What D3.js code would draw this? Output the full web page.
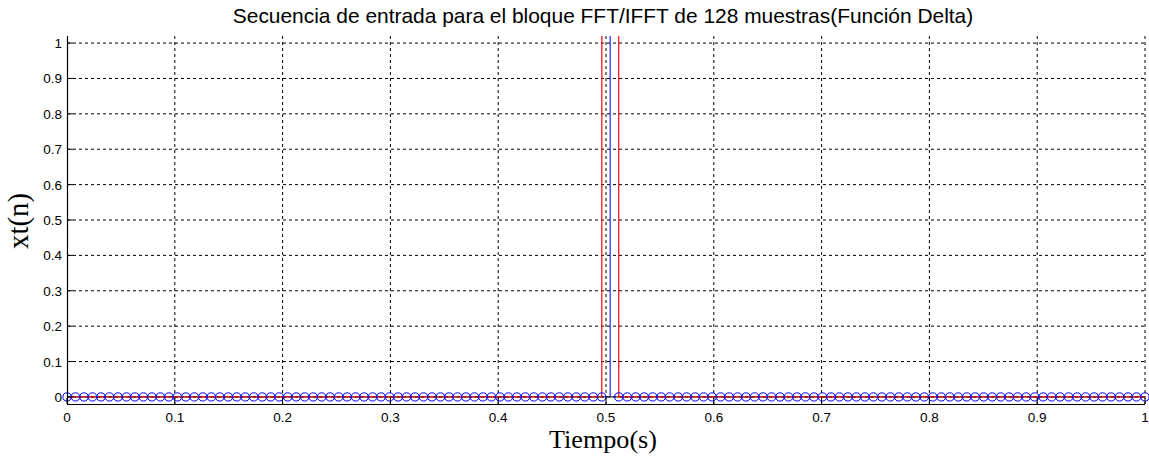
<!DOCTYPE html>
<html>
<head>
<meta charset="utf-8">
<script src="https://cdn.jsdelivr.net/npm/d3@7/dist/d3.min.js"></script>
<style>
  html, body { margin: 0; padding: 0; background: #fff; }
  svg { display: block; }
</style>
</head>
<body>
<svg id="chart" width="1149" height="456"></svg>
<script>
// 128-sample input sequence: a delta at sample 64, zero elsewhere.
const sampleCount = 128;
const deltaIndex = 64;
const deltaValue = 128;
const sampleIndex = d3.range(sampleCount);                  // n = 0..127
const sampleTime = sampleIndex.map(n => n / (sampleCount - 1)); // t in seconds
const sampleValue = sampleIndex.map(n => (n === deltaIndex ? deltaValue : 0));

const xTicks = [0, 0.1, 0.2, 0.3, 0.4, 0.5, 0.6, 0.7, 0.8, 0.9, 1];
const yTicks = [0, 0.1, 0.2, 0.3, 0.4, 0.5, 0.6, 0.7, 0.8, 0.9, 1];
const xDomain = [0, 1];
const yDomain = [-0.02, 1.02];

const titleText = "Secuencia de entrada para el bloque FFT/IFFT de 128 muestras(Función Delta)";
const xLabelText = "Tiempo(s)";
const yLabelText = "xt(n)";

(function draw() {
  const svg = d3.select("#chart");
  const pLeft = 67, pRight = 1145, pTop = 36, pBottom = 404;

  const x = d3.scaleLinear().domain(xDomain).range([pLeft, pRight]);
  const y = d3.scaleLinear().domain(yDomain).range([pBottom, pTop]);

  svg.append("defs").append("clipPath").attr("id", "plotClip")
    .append("rect").attr("x", pLeft - 6).attr("y", pTop)
    .attr("width", pRight - pLeft + 12).attr("height", pBottom - pTop);

  // dotted grid
  const grid = svg.append("g");
  grid.selectAll("line.gx").data(xTicks.filter(d => d > 0)).join("line")
    .attr("x1", d => x(d)).attr("x2", d => x(d))
    .attr("y1", pTop).attr("y2", pBottom)
    .attr("stroke", "#000").attr("stroke-width", 1).attr("stroke-dasharray", "3,3");
  grid.selectAll("line.gy").data(yTicks).join("line")
    .attr("x1", pLeft).attr("x2", pRight)
    .attr("y1", d => y(d)).attr("y2", d => y(d))
    .attr("stroke", "#000").attr("stroke-width", 1).attr("stroke-dasharray", "3,3");

  const plot = svg.append("g").attr("clip-path", "url(#plotClip)");

  // stem baseline
  plot.append("line")
    .attr("x1", x(0)).attr("x2", x(1))
    .attr("y1", y(0)).attr("y2", y(0))
    .attr("stroke", "#000").attr("stroke-width", 1);

  // red line through the samples
  const line = d3.line().x((d, i) => x(sampleTime[i])).y(d => y(d));
  plot.append("path")
    .datum(sampleValue)
    .attr("d", line)
    .attr("fill", "none").attr("stroke", "#ff0000").attr("stroke-width", 1.4).attr("opacity", 0.85);

  // blue stems with circle markers
  plot.selectAll("line.stem").data(sampleIndex).join("line")
    .attr("x1", i => x(sampleTime[i])).attr("x2", i => x(sampleTime[i]))
    .attr("y1", y(0)).attr("y2", i => y(sampleValue[i]))
    .attr("stroke", "#0000ff").attr("stroke-width", 1.6).attr("opacity", 0.65);
  plot.selectAll("circle.mark").data(sampleIndex).join("circle")
    .attr("cx", i => x(sampleTime[i])).attr("cy", i => y(sampleValue[i]))
    .attr("r", 4.1)
    .attr("fill", "none").attr("stroke", "#0000ff").attr("stroke-width", 1);

  // axes
  const axes = svg.append("g");
  axes.append("line").attr("x1", pLeft + 0.5).attr("x2", pLeft + 0.5).attr("y1", pTop).attr("y2", pBottom)
    .attr("stroke", "#000").attr("stroke-width", 1.2);
  axes.append("line").attr("x1", pLeft).attr("x2", pRight).attr("y1", pBottom + 0.5).attr("y2", pBottom + 0.5)
    .attr("stroke", "#000").attr("stroke-width", 1.2);
  axes.selectAll("line.ty").data(yTicks).join("line")
    .attr("x1", pLeft).attr("x2", pLeft + 6)
    .attr("y1", d => y(d)).attr("y2", d => y(d))
    .attr("stroke", "#000");
  axes.selectAll("line.tx").data(xTicks).join("line")
    .attr("x1", d => x(d)).attr("x2", d => x(d))
    .attr("y1", pBottom).attr("y2", pBottom - 6)
    .attr("stroke", "#000");

  const sansFont = "Liberation Sans, Arial, sans-serif";
  const serifFont = "Liberation Serif, 'DejaVu Serif', serif";
  const fmt = d => d3.format("")(+d.toFixed(1));

  axes.selectAll("text.ly").data(yTicks).join("text")
    .attr("x", pLeft - 5).attr("y", d => y(d) + 5)
    .attr("text-anchor", "end")
    .attr("font-family", sansFont).attr("font-size", 13.5)
    .attr("fill", "#000")
    .text(fmt);
  axes.selectAll("text.lx").data(xTicks).join("text")
    .attr("x", d => x(d)).attr("y", 422)
    .attr("text-anchor", "middle")
    .attr("font-family", sansFont).attr("font-size", 13.5)
    .attr("fill", "#000")
    .text(fmt);

  // fit a text element to a target width by adjusting its font size
  function fitWidth(sel, width) {
    const w = sel.node().getComputedTextLength();
    const fs = parseFloat(sel.attr("font-size"));
    sel.attr("font-size", fs * width / w);
  }

  const title = svg.append("text")
    .attr("x", 603).attr("y", 23)
    .attr("text-anchor", "middle")
    .attr("font-family", sansFont).attr("font-size", 17)
    .attr("fill", "#000")
    .text(titleText);
  fitWidth(title, 741);

  const xl = svg.append("text")
    .attr("x", 603).attr("y", 448)
    .attr("text-anchor", "middle")
    .attr("font-family", serifFont).attr("font-size", 20)
    .attr("fill", "#000")
    .text(xLabelText);
  fitWidth(xl, 108);

  const yl = svg.append("text")
    .attr("transform", "translate(28,221) rotate(-90)")
    .attr("text-anchor", "middle")
    .attr("font-family", serifFont).attr("font-size", 20)
    .attr("fill", "#000")
    .text(yLabelText);
  fitWidth(yl, 56);
})();
</script>
</body>
</html>
